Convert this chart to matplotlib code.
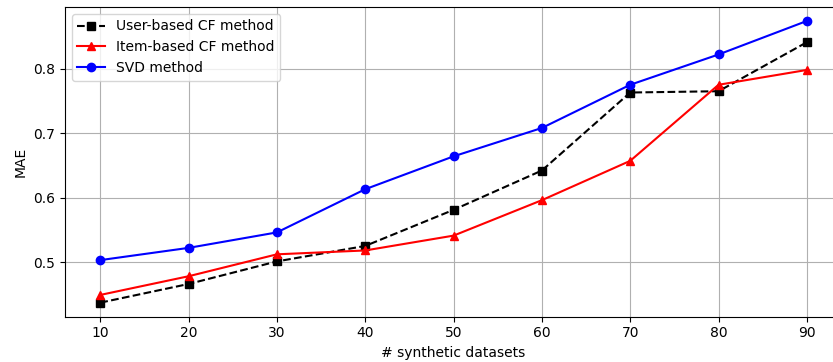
import numpy as np
import matplotlib.pyplot as plt

datasets = [10, 20, 30, 40, 50, 60, 70, 80, 90]
user_cf = [0.437, 0.466, 0.501, 0.525, 0.581, 0.642, 0.763, 0.765, 0.841]
item_cf = [0.449, 0.478, 0.512, 0.518, 0.541, 0.596, 0.657, 0.775, 0.798]
svd = [0.503, 0.522, 0.546, 0.613, 0.664, 0.708, 0.775, 0.822, 0.874]

fig, ax = plt.subplots(figsize=(8.33, 3.62), dpi=100)

ax.plot(datasets, user_cf, 'k--s', label='User-based CF method')
ax.plot(datasets, item_cf, 'r-^', label='Item-based CF method')
ax.plot(datasets, svd, 'b-o', label='SVD method')

ax.set_xticks(datasets)
ax.set_yticks([0.5, 0.6, 0.7, 0.8])
ax.set_xlabel('# synthetic datasets')
ax.set_ylabel('MAE')
ax.grid(True)
ax.legend(loc='upper left')

# the original is cropped on the right, so the axes run past the figure edge
plt.subplots_adjust(left=0.078, right=1.011, top=0.981, bottom=0.125)
plt.savefig('out.png')
